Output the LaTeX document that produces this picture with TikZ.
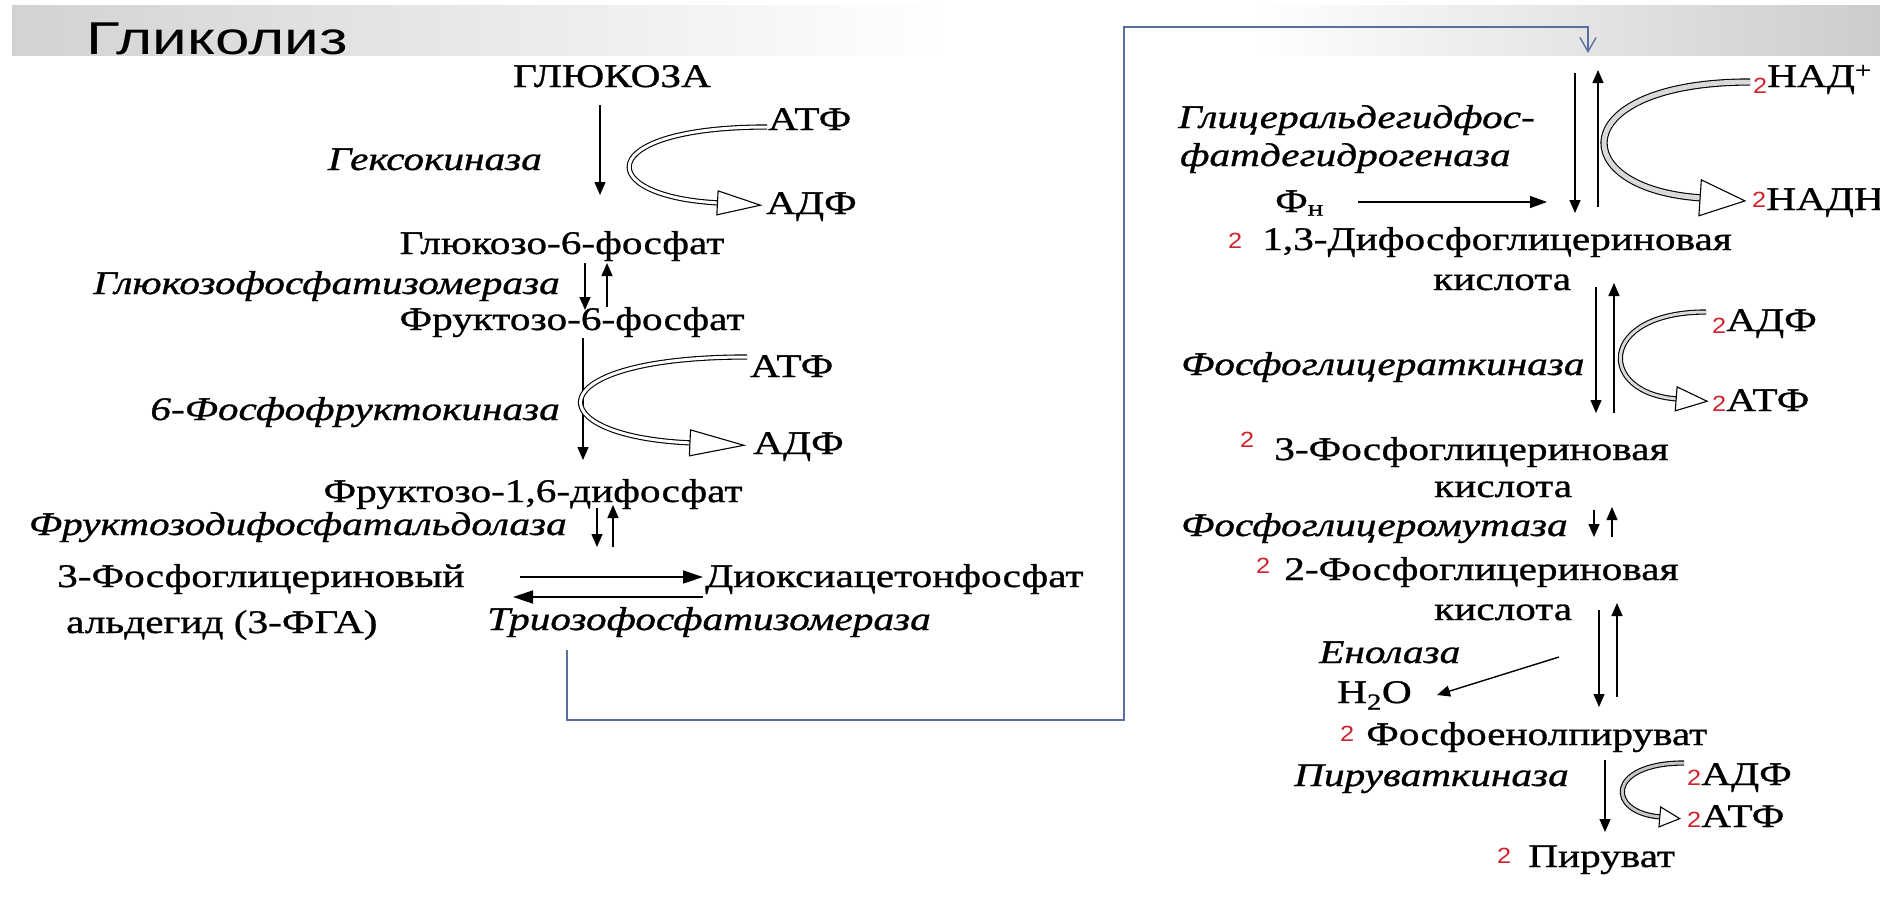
\documentclass[tikz,border=0pt]{standalone}
\usepackage{fontspec}
\setmainfont{Liberation Serif}[FakeStretch=1.25,FakeBold=0.9]
\newfontfamily\numfont{Liberation Sans}[FakeStretch=1.15]
\newfontfamily\titlefont{Liberation Sans}[FakeStretch=1.35]
\usetikzlibrary{arrows.meta,decorations.markings}
\definecolor{numred}{RGB}{205,35,45}
\definecolor{linkblue}{RGB}{90,110,160}
\newcommand{\dva}[1][0pt]{\raisebox{#1}{\numfont\fontsize{22}{22}\selectfont\textcolor{numred}{2}}}

\begin{document}
\begin{tikzpicture}[x=1pt,y=-1pt,
  chem/.style={inner sep=0pt,font=\fontsize{33}{36}\selectfont},
  enz/.style={inner sep=0pt,font=\fontsize{33}{36}\selectfont\itshape},
  rx/.style={line width=1.4pt,-{Triangle[length=13pt,width=11pt]}},
  cof/.style n args={3}{line width=1.1pt,double=#3,double distance=3pt,
    postaction={decorate,decoration={markings,
      mark=at position 0.99 with {\draw[line width=1.1pt,fill=white]
        (0pt,#2pt) -- (#1pt,0pt) -- (0pt,-#2pt) -- cycle;}}}},
  link/.style={draw=linkblue,line width=1.4pt,-{Straight Barb[length=14pt,width=16pt]}}]
\useasboundingbox[fill=white] (0,0) rectangle (1880,910);
% title band
\shade[left color=gray!35,right color=white] (12,5) rectangle (950,55);
\shade[left color=white,right color=gray!40] (1250,5) rectangle (1880,55);
\node[inner sep=0pt,anchor=base west,font=\titlefont\fontsize{46}{46}\selectfont] (title) at (86,54) {Гликолиз};

% left column
\node[chem,anchor=base] (glc) at (612,87) {ГЛЮКОЗА};
\node[enz,anchor=base east] (hk) at (542,170) {Гексокиназа};
\node[chem,anchor=base west] (atp1) at (768,130) {АТФ};
\node[chem,anchor=base west] (adp1) at (766,214) {АДФ};
\node[chem,anchor=base] (g6p) at (562,254) {Глюкозо-6-фосфат};
\node[enz,anchor=base east] (gpi) at (560,294) {Глюкозофосфатизомераза};
\node[chem,anchor=base] (f6p) at (572,330) {Фруктозо-6-фосфат};
\node[chem,anchor=base west] (atp2) at (750,377) {АТФ};
\node[enz,anchor=base east] (pfk) at (560,420) {6-Фосфофруктокиназа};
\node[chem,anchor=base west] (adp2) at (753,454) {АДФ};
\node[chem,anchor=base] (f16bp) at (533,502) {Фруктозо-1,6-дифосфат};
\node[enz,anchor=base east] (ald) at (567,535) {Фруктозодифосфатальдолаза};
\node[chem,anchor=base west] (gap) at (57,587) {3-Фосфоглицериновый};
\node[chem,anchor=base west] (gapb) at (66,633) {альдегид (3-ФГА)};
\node[chem,anchor=base west] (dhap) at (705,587) {Диоксиацетонфосфат};
\node[enz,anchor=base west] (tpi) at (487,630) {Триозофосфатизомераза};

\draw[rx] ([xshift=-12pt,yshift=-18pt]glc.base) -- ([xshift=38pt,yshift=59pt]g6p.base);
\draw[rx] ([xshift=23pt,yshift=-9pt]g6p.base) -- ([xshift=13pt,yshift=20pt]f6p.base);
\draw[rx] ([xshift=35pt,yshift=23pt]f6p.base) -- ([xshift=45pt,yshift=-9pt]g6p.base);
\draw[rx] ([xshift=11pt,yshift=-8pt]f6p.base) -- ([xshift=50pt,yshift=42pt]f16bp.base);
\draw[rx] ([xshift=64pt,yshift=-6pt]f16bp.base) -- ([xshift=-108pt,yshift=40pt]dhap.base west);
\draw[rx] ([xshift=-92pt,yshift=40pt]dhap.base west) -- ([xshift=80pt,yshift=-3pt]f16bp.base);
\draw[rx,-{Triangle[length=20pt,width=13pt]}] ([xshift=463pt,yshift=10pt]gap.base west) -- ([xshift=-2pt,yshift=10pt]dhap.base west);
\draw[rx,-{Triangle[length=20pt,width=13pt]}] ([xshift=-2pt,yshift=-10pt]dhap.base west) -- ([xshift=456pt,yshift=-10pt]gap.base west);
\draw[cof={43}{12}{white}] ([xshift=-1pt,yshift=3pt]atp1.base west) .. controls +(-175,0) and +(-128,-6) .. ([xshift=-46pt,yshift=11pt]adp1.base west);
\draw[cof={54}{13}{white}] ([xshift=-3pt,yshift=20pt]atp2.base west) .. controls +(-212,0) and +(-158,-6) .. ([xshift=-60pt,yshift=11pt]adp2.base west);

% link to the second stage
\coordinate (lk1) at (1124,720);
\coordinate (lk2) at (1588,27);
\coordinate (gapin) at (1588,53);
\draw[link] ([xshift=80pt,yshift=-20pt]tpi.base west) |- (lk1) |- (lk2) -- (gapin);

% right column
\node[enz,anchor=base west] (gapdh) at (1178,128) {Глицеральдегидфос-};
\node[enz,anchor=base west] (gapdhb) at (1180,166) {фатдегидрогеназа};
\node[chem,anchor=base west] (pi) at (1275,212) {Ф\textsubscript{н}};
\node[chem,anchor=base west] (nad) at (1753,87) {\dva[-6pt]НАД\textsuperscript{+}};
\node[chem,anchor=base west] (nadh) at (1752,210) {\dva[3pt]НАДН};
\node[chem,anchor=base west] (bpg13) at (1228,250) {\dva[2pt]\hspace{20pt}1,3-Дифосфоглицериновая};
\node[chem,anchor=base west] (bpg13b) at (1433,290) {кислота};
\node[enz,anchor=base west] (pgk) at (1181,375) {Фосфоглицераткиназа};
\node[chem,anchor=base west] (adp3) at (1712,331) {\dva[-2pt]АДФ};
\node[chem,anchor=base west] (atp3) at (1712,411) {\dva АТФ};
\node[chem,anchor=base west] (pg3) at (1240,460) {\dva[13pt]\hspace{20pt}3-Фосфоглицериновая};
\node[chem,anchor=base west] (pg3b) at (1434,497) {кислота};
\node[enz,anchor=base west] (pgm) at (1181,536) {Фосфоглицеромутаза};
\node[chem,anchor=base west] (pg2) at (1256,580) {\dva[7pt]\hspace{14pt}2-Фосфоглицериновая};
\node[chem,anchor=base west] (pg2b) at (1434,620) {кислота};
\node[enz,anchor=base west] (eno) at (1319,663) {Енолаза};
\node[chem,anchor=base west] (h2o) at (1337,703) {H\textsubscript{2}O};
\node[chem,anchor=base west] (pep) at (1340,745) {\dva[4pt]\hspace{12pt}Фосфоенолпируват};
\node[enz,anchor=base west] (pk) at (1294,786) {Пируваткиназа};
\node[chem,anchor=base west] (adp4) at (1687,785) {\dva АДФ};
\node[chem,anchor=base west] (atp4) at (1687,827) {\dva АТФ};
\node[chem,anchor=base west] (pyr) at (1497,867) {\dva[4pt]\hspace{17pt}Пируват};

\draw[rx] ([xshift=-13pt,yshift=-20pt]gapin) -- ([xshift=347pt,yshift=37pt]bpg13.base west);
\draw[rx] ([xshift=370pt,yshift=43pt]bpg13.base west) -- ([xshift=10pt,yshift=-17pt]gapin);
\draw[rx,-{Triangle[length=17pt,width=12pt]}] ([xshift=83pt,yshift=10pt]pi.base west) -- ([xshift=319pt,yshift=48pt]bpg13.base west);
\draw[rx] ([xshift=163pt,yshift=3pt]bpg13b.base west) -- ([xshift=356pt,yshift=47pt]pg3.base west);
\draw[rx] ([xshift=374pt,yshift=47pt]pg3.base west) -- ([xshift=181pt,yshift=7pt]bpg13b.base west);
\draw[rx] ([xshift=160pt,yshift=-13pt]pg3b.base west) -- ([xshift=338pt,yshift=43pt]pg2.base west);
\draw[rx] ([xshift=356pt,yshift=43pt]pg2.base west) -- ([xshift=178pt,yshift=-10pt]pg3b.base west);
\draw[rx] ([xshift=165pt,yshift=10pt]pg2b.base west) -- ([xshift=259pt,yshift=38pt]pep.base west);
\draw[rx] ([xshift=277pt,yshift=48pt]pep.base west) -- ([xshift=183pt,yshift=17pt]pg2b.base west);
\draw[rx] ([xshift=125pt,yshift=-37pt]pg2b.base west) -- ([xshift=100pt,yshift=8pt]h2o.base west);
\draw[rx] ([xshift=265pt,yshift=-15pt]pep.base west) -- ([xshift=108pt,yshift=35pt]pyr.base west);
\draw[cof={45}{18}{gray!30},double distance=5pt] ([xshift=-3pt,yshift=5pt]nad.base west) .. controls +(-186,0) and +(-139,-8) .. ([xshift=-49pt,yshift=12pt]nadh.base west);
\draw[cof={31}{12}{gray!30}] ([xshift=-6pt,yshift=19pt]adp3.base west) .. controls +(-109,0) and +(-81,-5) .. ([xshift=-34pt,yshift=12pt]atp3.base west);
\draw[cof={20}{10}{gray!45}] ([xshift=-3pt,yshift=22pt]adp4.base west) .. controls +(-78,0) and +(-55,-4) .. ([xshift=-26pt,yshift=10pt]atp4.base west);
\end{tikzpicture}
\end{document}
